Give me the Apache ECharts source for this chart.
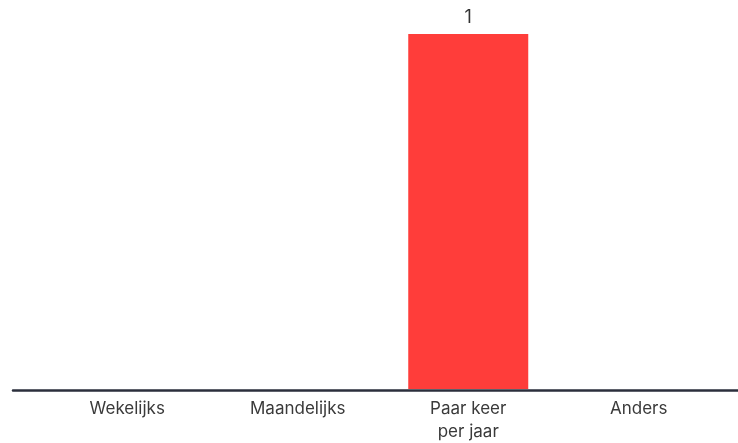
<!DOCTYPE html>
<html>
<head>
<meta charset="utf-8">
<script src="https://cdn.jsdelivr.net/npm/echarts@6/dist/echarts.min.js"></script>
<style>
  html, body { margin: 0; padding: 0; background: #fff; }
  #chart { width: 738px; height: 443px; }
</style>
</head>
<body>
<div id="chart"></div>
<script>
const categories = ['Wekelijks', 'Maandelijks', 'Paar keer\nper jaar', 'Anders']
const values = [0, 0, 1, 0]

const chart = echarts.init(document.getElementById('chart'))

const option = {
  animation: false,
  textStyle: { fontFamily: 'Inter, sans-serif' },
  grid: [
    { left: 42, right: 14, top: 34, bottom: 53 },
    // wider grid only for the baseline that runs past the bars
    { left: 13, right: 0, top: 34, bottom: 53 },
  ],
  xAxis: [
    {
      type: 'category',
      gridIndex: 0,
      data: categories,
      axisLine: { show: false },
      axisTick: { show: false },
      axisLabel: {
        color: '#3a3a3a',
        fontSize: 17,
        lineHeight: 23,
        margin: 8,
      },
    },
    {
      type: 'value',
      gridIndex: 1,
      min: 0,
      max: 1,
      axisLine: { show: true, lineStyle: { color: '#2b2f3c', width: 2.5 } },
      axisTick: { show: false },
      axisLabel: { show: false },
      splitLine: { show: false },
    },
  ],
  yAxis: [
    { type: 'value', gridIndex: 0, min: 0, max: 1, show: false },
    { type: 'value', gridIndex: 1, min: 0, max: 1, show: false },
  ],
  series: [
    {
      type: 'bar',
      xAxisIndex: 0,
      yAxisIndex: 0,
      data: values,
      barWidth: 120,
      itemStyle: { color: '#ff3d3a' },
      label: {
        show: true,
        position: 'top',
        distance: 7,
        color: '#333',
        fontSize: 18,
        formatter: p => (p.value ? p.value : ''),
      },
    },
  ],
}

chart.setOption(option)
</script>
</body>
</html>
